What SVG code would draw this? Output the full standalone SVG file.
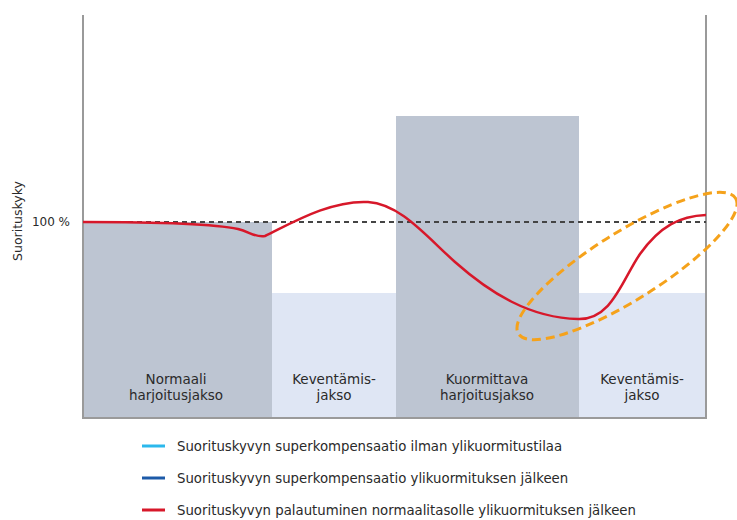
<svg xmlns="http://www.w3.org/2000/svg" width="737" height="520" viewBox="0 0 737 520">
<style>
.t{font-family:"DejaVu Sans","Liberation Sans",sans-serif;fill:#2a2a2a}
.lbl{font-size:13.5px;text-anchor:middle}
.leg{font-size:13.3px}
.dark{fill:#bdc5d2}
.light{fill:#dfe6f4}
.axis{stroke:#9a9a9a;stroke-width:2;fill:none}
</style>
<rect width="737" height="520" fill="#fff"/>
<g id="bars">
<g id="bar-normaali"><rect class="dark" x="83" y="222" width="189" height="196"/>
<text class="t lbl" x="176" y="384">Normaali</text><text class="t lbl" x="176" y="400">harjoitusjakso</text></g>
<g id="bar-kevent1"><rect class="light" x="272" y="293" width="124" height="125"/>
<text class="t lbl" x="334" y="384">Keventämis-</text><text class="t lbl" x="334" y="400">jakso</text></g>
<g id="bar-kuormittava"><rect class="dark" x="396" y="116" width="183" height="302"/>
<text class="t lbl" x="487" y="384">Kuormittava</text><text class="t lbl" x="487" y="400">harjoitusjakso</text></g>
<g id="bar-kevent2"><rect class="light" x="579" y="293" width="127" height="125"/>
<text class="t lbl" x="642" y="384">Keventämis-</text><text class="t lbl" x="642" y="400">jakso</text></g>
</g>
<g id="axes">
<path class="axis" d="M83,15 V418 H706 V15"/>
<line x1="83" y1="222" x2="706" y2="222" stroke="#444" stroke-width="2" stroke-dasharray="5,4"/>
<text class="t" font-size="12" x="70" y="226" text-anchor="end">100 %</text>
<text class="t" font-size="12.5" transform="translate(22,221) rotate(-90)" text-anchor="middle">Suorituskyky</text>
</g>
<g id="connectors">
<path d="M83,222 C140,222 210,223 238,229 C250,232 256,238 265,236 C290,224 330,200 368,202 C400,204 425,235 455,262 C490,293 530,318 578,319 C612,320 622,280 640,254 C660,226 680,216 706,215" fill="none" stroke="#d7182a" stroke-width="2.5"/>
<ellipse cx="627" cy="266" rx="128" ry="34" transform="rotate(-32 627 266)" fill="none" stroke="#f5a21b" stroke-width="3" stroke-dasharray="9,5"/>
</g>
<g id="legend">
<line x1="142" y1="446" x2="165" y2="446" stroke="#2bb8ec" stroke-width="3"/>
<text class="t leg" x="177" y="451">Suorituskyvyn superkompensaatio ilman ylikuormitustilaa</text>
<line x1="142" y1="478" x2="165" y2="478" stroke="#1d5aa8" stroke-width="3"/>
<text class="t leg" x="177" y="483">Suorituskyvyn superkompensaatio ylikuormituksen jälkeen</text>
<line x1="142" y1="510" x2="165" y2="510" stroke="#d7182a" stroke-width="3"/>
<text class="t leg" x="177" y="515">Suorituskyvyn palautuminen normaalitasolle ylikuormituksen jälkeen</text>
</g>
</svg>
